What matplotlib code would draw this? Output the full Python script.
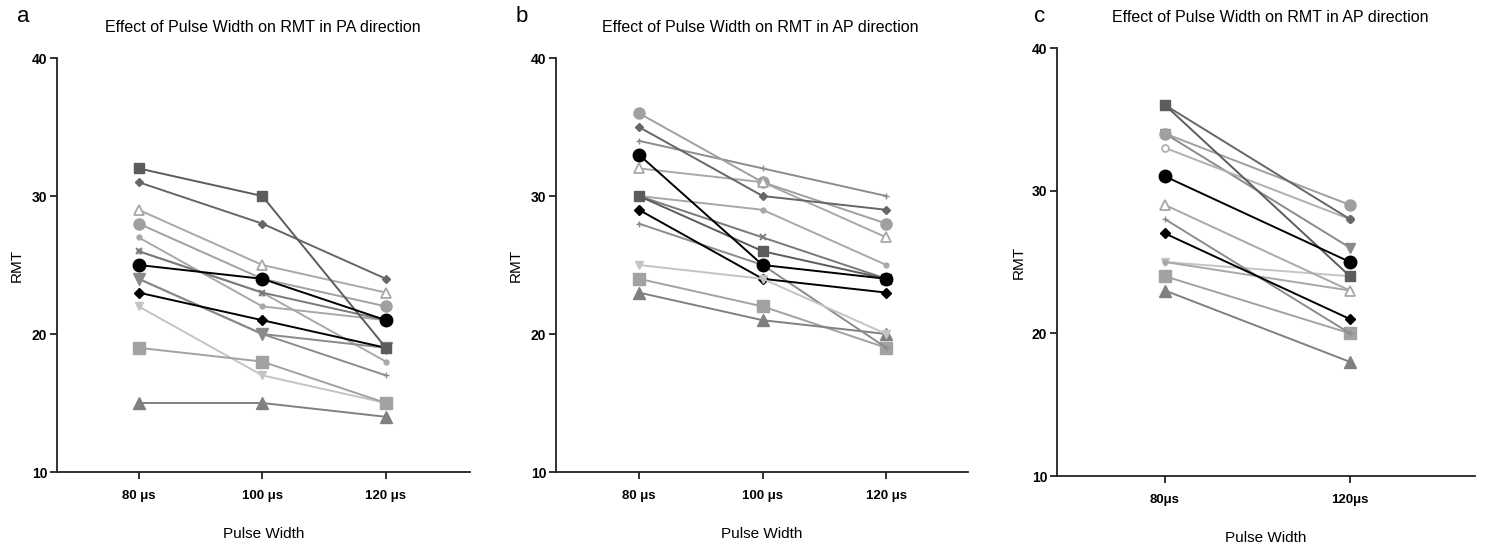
import matplotlib
matplotlib.use("Agg")
import matplotlib.pyplot as plt

plt.rcParams["font.family"] = ["Liberation Sans", "DejaVu Sans"]

# --- data -------------------------------------------------------------
PW3 = ["80 μs", "100 μs", "120 μs"]
PW2 = ["80μs", "120μs"]

# panel a: PA direction, 80/100/120 us
A_DARK_SQ = [32, 30, 19]
A_DARK_DI = [31, 28, 24]
A_OPEN_TRI = [29, 25, 23]
A_LT_CIRC = [28, 24, 22]
A_SM_DOT = [27, 22, 21]
A_X = [26, 23, 21]
A_BLK_CIRC = [25, 24, 21]
A_GR_DTRI = [24, 20, 19]
A_SM_PLUS = [24, 20, 17]
A_BLK_DI = [23, 21, 19]
A_SM_DOT2 = [26, 23, 18]
A_LT_DTRI = [22, 17, 15]
A_LT_SQ = [19, 18, 15]
A_TRI = [15, 15, 14]

# panel b: AP direction, 80/100/120 us
B_LT_CIRC = [36, 31, 28]
B_DARK_DI = [35, 30, 29]
B_SM_PLUS = [34, 32, 30]
B_BLK_CIRC = [33, 25, 24]
B_OPEN_TRI = [32, 31, 27]
B_DARK_SQ = [30, 26, 24]
B_X = [30, 27, 24]
B_SM_DOT = [30, 29, 25]
B_BLK_DI = [29, 24, 23]
B_SM_PLUS2 = [28, 25, 19]
B_LT_DTRI = [25, 24, 20]
B_LT_SQ = [24, 22, 19]
B_TRI = [23, 21, 20]

# panel c: AP direction, 80/120 us
C_DARK_SQ = [36, 24]
C_DARK_DI = [36, 28]
C_LT_CIRC = [34, 29]
C_GR_DTRI = [34, 26]
C_SM_CIRC = [33, 28]
C_BLK_CIRC = [31, 25]
C_OPEN_TRI = [29, 23]
C_SM_PLUS = [28, 20]
C_BLK_DI = [27, 21]
C_LT_DTRI = [25, 24]
C_SM_DOT = [25, 23]
C_LT_SQ = [24, 20]
C_TRI = [23, 18]

# --- styles -----------------------------------------------------------
ST = {
    "dark_sq": dict(color="#5c5c5c", marker="s", ms=7),
    "dark_di": dict(color="#666666", marker="D", ms=4),
    "open_tri": dict(color="#a8a8a8", marker="^", ms=7, mfc="white", mew=1.3),
    "lt_circ": dict(color="#a0a0a0", marker="o", ms=8),
    "sm_dot": dict(color="#a8a8a8", marker="o", ms=3.5),
    "sm_plus": dict(color="#8c8c8c", marker="+", ms=4),
    "x": dict(color="#7a7a7a", marker="x", ms=4, mew=1.3),
    "blk_circ": dict(color="#000000", marker="o", ms=9),
    "gr_dtri": dict(color="#8a8a8a", marker="v", ms=8),
    "gr_dtri_s": dict(color="#8a8a8a", marker="v", ms=6.5),
    "blk_di": dict(color="#000000", marker="D", ms=5),
    "lt_dtri": dict(color="#c4c4c4", marker="v", ms=6),
    "lt_sq": dict(color="#a2a2a2", marker="s", ms=8),
    "tri": dict(color="#808080", marker="^", ms=8),
    "sm_circ": dict(color="#b0b0b0", marker="o", ms=5, mfc="white", mew=1.3),
}

# drawing order: first in list is drawn at the bottom
PANEL_A = [
    (A_LT_DTRI, "lt_dtri"), (A_LT_SQ, "lt_sq"), (A_TRI, "tri"),
    (A_SM_DOT2, "sm_dot"), (A_SM_PLUS, "sm_plus"), (A_SM_DOT, "sm_dot"),
    (A_LT_CIRC, "lt_circ"), (A_OPEN_TRI, "open_tri"), (A_X, "x"),
    (A_GR_DTRI, "gr_dtri"), (A_DARK_DI, "dark_di"),
    (A_BLK_DI, "blk_di"), (A_DARK_SQ, "dark_sq"), (A_BLK_CIRC, "blk_circ"),
]
PANEL_B = [
    (B_LT_SQ, "lt_sq"), (B_TRI, "tri"),
    (B_SM_DOT, "sm_dot"), (B_SM_PLUS2, "sm_plus"), (B_SM_PLUS, "sm_plus"),
    (B_LT_CIRC, "lt_circ"), (B_OPEN_TRI, "open_tri"), (B_X, "x"),
    (B_DARK_DI, "dark_di"), (B_DARK_SQ, "dark_sq"),
    (B_BLK_DI, "blk_di"), (B_LT_DTRI, "lt_dtri"), (B_BLK_CIRC, "blk_circ"),
]
PANEL_C = [
    (C_GR_DTRI, "gr_dtri_s"), (C_LT_DTRI, "lt_dtri"), (C_SM_DOT, "sm_dot"),
    (C_LT_SQ, "lt_sq"), (C_TRI, "tri"), (C_SM_CIRC, "sm_circ"),
    (C_SM_PLUS, "sm_plus"), (C_LT_CIRC, "lt_circ"), (C_OPEN_TRI, "open_tri"),
    (C_DARK_DI, "dark_di"), (C_DARK_SQ, "dark_sq"),
    (C_BLK_DI, "blk_di"), (C_BLK_CIRC, "blk_circ"),
]

W, H = 1485, 548
fig = plt.figure(figsize=(W / 100, H / 100), dpi=100)


def px_axes(x0, y_top, x1, y_bot):
    return fig.add_axes([x0 / W, 1 - y_bot / H, (x1 - x0) / W, (y_bot - y_top) / H])


def draw_panel(ax, series, labels, xlim, title, letter, title_xy, letter_xy, ylabel_x):
    xs = list(range(len(labels)))
    for vals, key in series:
        st = ST[key]
        ax.plot(xs, vals, lw=1.4, color=st["color"], marker=st["marker"],
                ms=st["ms"], mfc=st.get("mfc", st["color"]), mec=st["color"],
                mew=st.get("mew", 1.0), zorder=3)
    ax.set_xlim(*xlim)
    ax.set_ylim(10, 40)
    ax.set_yticks([10, 20, 30, 40])
    ax.set_xticks(xs)
    ax.set_xticklabels(labels, fontsize=9.5, fontweight="bold")
    for t in ax.get_yticklabels():
        t.set_fontsize(10)
        t.set_fontweight("bold")
    ax.spines["top"].set_visible(False)
    ax.spines["right"].set_visible(False)
    for s in ("left", "bottom"):
        ax.spines[s].set_linewidth(1.3)
        ax.spines[s].set_color("#222222")
    ax.tick_params(direction="out", length=5, width=1.3, color="#222222", pad=2)
    ax.tick_params(axis="x", pad=8)
    ax.set_xlabel("Pulse Width", fontsize=11, labelpad=18)
    ax.set_ylabel("RMT", fontsize=11)
    ax.yaxis.set_label_coords(ylabel_x, 0.5)
    fig.text(title_xy[0] / W, 1 - title_xy[1] / H, title, fontsize=11.5,
             ha="center", va="center")
    fig.text(letter_xy[0] / W, 1 - letter_xy[1] / H, letter, fontsize=16,
             ha="center", va="center")


ax_a = px_axes(57, 58, 470, 472)
draw_panel(ax_a, PANEL_A, PW3, (-0.66, 2.68),
           "Effect of Pulse Width on RMT in PA direction", "a",
           (263, 28), (23, 17), -0.08)

ax_b = px_axes(556, 58, 968, 472)
draw_panel(ax_b, PANEL_B, PW3, (-0.67, 2.66),
           "Effect of Pulse Width on RMT in AP direction", "b",
           (760, 28), (522, 17), -0.08)

ax_c = px_axes(1057, 48, 1475, 476)
draw_panel(ax_c, PANEL_C, PW2, (-0.584, 1.676),
           "Effect of Pulse Width on RMT in AP direction", "c",
           (1270, 18), (1040, 17), -0.075)

fig.savefig("out.png", dpi=100)
